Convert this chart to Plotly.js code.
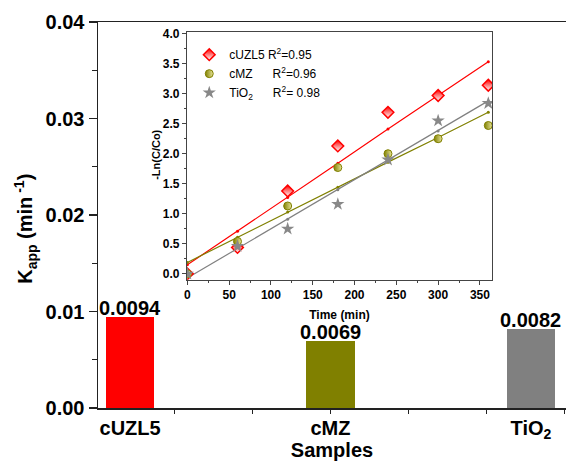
<!DOCTYPE html>
<html>
<head>
<meta charset="utf-8">
<script src="https://cdn.plot.ly/plotly-3.0.1.min.js"></script>
<style>html,body{margin:0;padding:0;background:#fff;}#chart{width:566px;height:461px;}</style>
</head>
<body>
<div id="chart"></div>
<script>
// Main bar chart data
const samples = ['cUZL5', 'cMZ', 'TiO<sub>2</sub>'];
const kapp = [0.0094, 0.0069, 0.0082];
const barColors = ['#ff0000', '#808000', '#808080'];

// Inset kinetics data
const time = [0, 60, 120, 180, 240, 300, 360];
const cUZL5 = [0.0, 0.44, 1.38, 2.13, 2.69, 2.97, 3.14];
const cMZ = [0.0, 0.54, 1.13, 1.77, 2.00, 2.25, 2.47];
const TiO2 = [0.0, 0.46, 0.75, 1.16, 1.90, 2.55, 2.84];
// Linear fit lines
const cUZL5Fit = [0.15, 0.71, 1.27, 1.84, 2.41, 2.97, 3.53];
const cMZFit = [0.19, 0.61, 1.03, 1.44, 1.86, 2.27, 2.69];
const TiO2Fit = [-0.07, 0.42, 0.91, 1.40, 1.89, 2.38, 2.88];
const seriesNames = ['cUZL5', 'cMZ', 'TiO<sub>2</sub>'];
const r2 = ['=0.95', '=0.96', '= 0.98'];

const FONT = 'Liberation Sans, Arial, sans-serif';
const NB = '\u00a0';

const traces = [];
traces.push({
  type: 'bar', x: samples, y: kapp, xaxis: 'x', yaxis: 'y',
  marker: {color: barColors}, width: 0.24,
  cliponaxis: false, showlegend: false, hoverinfo: 'skip'
});

const fitCols = ['#ff0000', '#808000', '#808080'];
[cUZL5Fit, cMZFit, TiO2Fit].forEach((f, i) => {
  traces.push({
    type: 'scatter', mode: 'lines+markers', x: time, y: f,
    xaxis: 'x2', yaxis: 'y2', showlegend: false,
    line: {color: fitCols[i], width: 1.2},
    marker: {size: 3, color: fitCols[i]}
  });
});

const pads = [' ', NB + NB + NB + NB + NB + ' ', NB + NB + NB + NB + NB + ' '];
traces.push({
  type: 'scatter', mode: 'markers', x: time, y: cUZL5, xaxis: 'x2', yaxis: 'y2',
  name: seriesNames[0] + pads[0] + 'R<sup>2</sup>' + r2[0],
  marker: {symbol: 'diamond', size: 9, color: '#ff0000',
           gradient: {type: 'vertical', color: '#ffffff'},
           line: {color: '#ff0000', width: 1.5}}
});
traces.push({
  type: 'scatter', mode: 'markers', x: time, y: cMZ, xaxis: 'x2', yaxis: 'y2',
  name: seriesNames[1] + pads[1] + 'R<sup>2</sup>' + r2[1],
  marker: {symbol: 'circle', size: 8, color: '#808000',
           gradient: {type: 'horizontal', color: '#e8e49a'},
           line: {color: '#808000', width: 1}}
});
traces.push({
  type: 'scatter', mode: 'markers', x: time, y: TiO2, xaxis: 'x2', yaxis: 'y2',
  name: seriesNames[2] + pads[2] + 'R<sup>2</sup>' + r2[2],
  marker: {symbol: 'star', size: 10, color: '#888888', line: {width: 0}}
});

// invisible trace to activate tick-only overlay axis
traces.push({type: 'scatter', mode: 'none', x: [1], y: [0], xaxis: 'x3', yaxis: 'y',
  showlegend: false, hoverinfo: 'skip'});

// bar value labels, placed at each bar's top through the axes
const barLabels = samples.map((s, i) => ({
  text: kapp[i].toFixed(4), xref: 'x', yref: 'y', x: s, y: kapp[i],
  xanchor: 'center', yanchor: 'bottom', yshift: -3, showarrow: false, borderpad: 0,
  font: {family: FONT, size: 20, color: '#000', weight: 'bold'}
}));

const xr = [-0.16, 2.175];
const layout = {
  width: 566, height: 461,
  margin: {l: 98, r: 0, t: 22, b: 53},
  paper_bgcolor: '#fff', plot_bgcolor: 'rgba(0,0,0,0)',
  font: {family: FONT, color: '#000'},
  showlegend: true,
  legend: {x: 0.195, y: 0.953, xanchor: 'left', yanchor: 'top',
    bgcolor: 'rgba(0,0,0,0)', font: {family: FONT, size: 12, color: '#000'},
    tracegroupgap: 0, traceorder: 'normal'},
  bargap: 0,
  xaxis: {
    domain: [0, 1], range: xr, type: 'category', anchor: 'y',
    showline: true, linecolor: '#222', linewidth: 1.5, mirror: true,
    ticks: '', showgrid: false, zeroline: false,
    tickfont: {family: FONT, size: 20, color: '#000', weight: 'bold'},
    ticklabelstandoff: 1,
    title: {text: 'Samples', standoff: 14, font: {family: FONT, size: 20, color: '#000', weight: 'bold'}}
  },
  xaxis3: {
    overlaying: 'x', anchor: 'y', range: xr, type: 'linear',
    tickmode: 'linear', tick0: 1, dtick: 0.389, ticks: 'outside', ticklen: 5,
    tickwidth: 1.3, tickcolor: '#222', showticklabels: false, showline: false,
    showgrid: false, zeroline: false
  },
  yaxis: {
    domain: [0, 1], range: [0, 0.04], anchor: 'x',
    showline: true, linecolor: '#222', linewidth: 1.5, mirror: false,
    ticks: 'outside', ticklen: 8, tickwidth: 1.3, tickcolor: '#222',
    tickvals: [0, 0.01, 0.02, 0.03, 0.04], tickformat: '.2f',
    minor: {tickvals: [0.005, 0.015, 0.025, 0.035], ticks: 'outside', ticklen: 5, tickwidth: 1.3, tickcolor: '#222'},
    showgrid: false, zeroline: false,
    tickfont: {family: FONT, size: 20, color: '#000', weight: 'bold'}
  },
  annotations: barLabels.concat([{
    text: 'K<sub>app</sub> (min<sup> -1</sup>)', textangle: -90,
    xref: 'paper', yref: 'paper', x: -0.154, y: 0.464, xanchor: 'center', yanchor: 'middle',
    showarrow: false, font: {family: FONT, size: 20, color: '#000', weight: 'bold'}
  }, {
    text: '-Ln(C/Co)', textangle: -90,
    xref: 'paper', yref: 'paper', x: 0.124, y: 0.656, xanchor: 'center', yanchor: 'middle',
    showarrow: false, font: {family: FONT, size: 11, color: '#000', weight: 'bold'}
  }]),
  xaxis2: {
    domain: [0.190, 0.842], anchor: 'y2', range: [-0.5, 364.5],
    showline: true, linecolor: '#444', linewidth: 1, mirror: true,
    ticks: 'outside', ticklen: 4, tickcolor: '#444', dtick: 50, tick0: 0,
    minor: {dtick: 25, ticks: 'outside', ticklen: 2, tickcolor: '#444'},
    showgrid: false, zeroline: false,
    tickfont: {family: FONT, size: 12, color: '#000', weight: 'bold'},
    title: {text: 'Time (min)', standoff: 9, font: {family: FONT, size: 12, color: '#000', weight: 'bold'}}
  },
  yaxis2: {
    domain: [0.332, 0.973], anchor: 'x2', range: [-0.1, 4.02],
    showline: true, linecolor: '#444', linewidth: 1, mirror: true,
    ticks: 'outside', ticklen: 4, tickcolor: '#444', dtick: 0.5, tick0: 0, tickformat: '.1f',
    minor: {dtick: 0.25, ticks: 'outside', ticklen: 2, tickcolor: '#444'},
    showgrid: false, zeroline: false,
    tickfont: {family: FONT, size: 12, color: '#000', weight: 'bold'}
  }
};

Plotly.newPlot('chart', traces, layout, {displayModeBar: false, staticPlot: true});
</script>
</body>
</html>
